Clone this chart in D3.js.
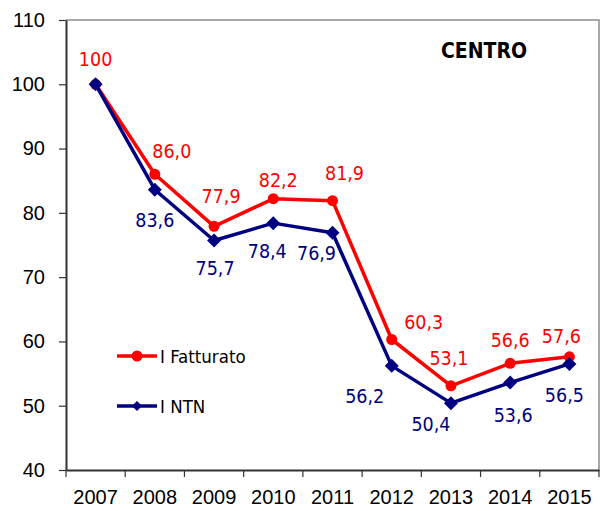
<!DOCTYPE html>
<html><head><meta charset="utf-8">
<script src="https://cdn.jsdelivr.net/npm/d3@7"></script>
<style>
html,body{margin:0;padding:0;background:#fff;}
svg{display:block;font-family:"DejaVu Sans Condensed","Liberation Sans",Arial,sans-serif;}
</style></head>
<body>
<svg id="chart" width="601" height="511"></svg>
<script>
const years = ["2007","2008","2009","2010","2011","2012","2013","2014","2015"];
const fatturato = [100, 86.0, 77.9, 82.2, 81.9, 60.3, 53.1, 56.6, 57.6];
const ntn = [100, 83.6, 75.7, 78.4, 76.9, 56.2, 50.4, 53.6, 56.5];
const fatturatoLabels = ["100","86,0","77,9","82,2","81,9","60,3","53,1","56,6","57,6"];
const ntnLabels = ["","83,6","75,7","78,4","76,9","56,2","50,4","53,6","56,5"];
const yTicks = [40, 50, 60, 70, 80, 90, 100, 110];
const seriesNames = ["I Fatturato", "I NTN"];
const title = "CENTRO";

// label placement offsets (dx, dy) relative to the point
const redOff = [[0,-25],[17,-23],[7,-30],[5,-19],[12,-28],[32,-18],[-2,-28],[0,-23],[-8,-21]];
const blueOff = [[0,30],[0,30],[1,27],[-6,28],[-16,20],[-27,30],[-20,21],[3,32],[-5,31]];

const RED = "#ff0000", BLUE = "#000080";
const L = 66, R = 599, T = 20, B = 470;
const svg = d3.select("#chart");

const x = d3.scaleBand().domain(years).range([L, R]).padding(0);
const y = d3.scaleLinear().domain([40, 110]).range([B, T]);
const cx = d => x(d) + x.bandwidth() / 2;

// plot frame (top/right gray)
svg.append("path").attr("d", `M${L},${T}H${R}V${B}`).attr("fill","none")
  .attr("stroke","#8c8c8c").attr("stroke-width",1.5);

// y axis
const yAxis = svg.append("g").attr("transform", `translate(${L},0)`)
  .call(d3.axisLeft(y).tickValues(yTicks).tickSize(7).tickPadding(14).tickSizeOuter(0));
yAxis.select(".domain").attr("stroke","#333").attr("stroke-width",2);
yAxis.selectAll(".tick line").attr("stroke","#333").attr("stroke-width",1.2);
yAxis.selectAll(".tick text").attr("font-size",20).attr("fill","#000")
  .attr("font-family","inherit");

// x axis: labels at centers, ticks at category boundaries
const xAxis = svg.append("g").attr("transform", `translate(0,${B})`)
  .call(d3.axisBottom(x).tickSize(0).tickPadding(20).tickSizeOuter(0));
xAxis.select(".domain").attr("stroke","#333").attr("stroke-width",2);
xAxis.selectAll(".tick text").attr("font-size",20).attr("fill","#000")
  .attr("font-family","inherit");
const bounds = years.map(d => x(d)).concat([x.range()[1]]);
svg.append("g").selectAll("line").data(bounds).join("line")
  .attr("x1", d => d).attr("x2", d => d).attr("y1", B).attr("y2", B + 7)
  .attr("stroke","#333").attr("stroke-width",1.2);

// lines
const line = d3.line().x((d,i) => cx(years[i])).y(d => y(d));
svg.append("path").datum(fatturato).attr("d", line).attr("fill","none")
  .attr("stroke", RED).attr("stroke-width", 3.5).attr("stroke-linejoin","round");
svg.selectAll(".redpt").data(fatturato).join("circle").attr("class","redpt")
  .attr("cx", (d,i) => cx(years[i])).attr("cy", d => y(d)).attr("r", 5.5).attr("fill", RED);

svg.append("path").datum(ntn).attr("d", line).attr("fill","none")
  .attr("stroke", BLUE).attr("stroke-width", 3.5).attr("stroke-linejoin","round");
const diamond = (s) => `M0,${-s}L${s},0L0,${s}L${-s},0Z`;
svg.selectAll(".bluept").data(ntn).join("path").attr("class","bluept")
  .attr("transform", (d,i) => `translate(${cx(years[i])},${y(d)})`)
  .attr("d", diamond(7)).attr("fill", BLUE);

// data labels
svg.selectAll(".redlab").data(fatturato).join("text").attr("class","redlab")
  .attr("x", (d,i) => cx(years[i]) + redOff[i][0]).attr("y", (d,i) => y(d) + redOff[i][1])
  .attr("dy","0.36em").attr("text-anchor","middle").attr("font-size",19.5).attr("fill", RED)
  .text((d,i) => fatturatoLabels[i]);
svg.selectAll(".bluelab").data(ntn).join("text").attr("class","bluelab")
  .attr("x", (d,i) => cx(years[i]) + blueOff[i][0]).attr("y", (d,i) => y(d) + blueOff[i][1])
  .attr("dy","0.36em").attr("text-anchor","middle").attr("font-size",19.5).attr("fill", BLUE)
  .text((d,i) => ntnLabels[i]);

// title
svg.append("text").attr("x", 484).attr("y", 58).attr("text-anchor","middle")
  .attr("font-size",21).attr("font-weight","bold").attr("fill","#000").text(title);

// legend
const leg = [{name: seriesNames[0], color: RED, sym: "circle", y: 356},
             {name: seriesNames[1], color: BLUE, sym: "diamond", y: 406}];
const lg = svg.append("g");
leg.forEach(e => {
  lg.append("line").attr("x1",117).attr("x2",157).attr("y1",e.y).attr("y2",e.y)
    .attr("stroke", e.color).attr("stroke-width",3.5);
  if (e.sym === "circle") lg.append("circle").attr("cx",137).attr("cy",e.y).attr("r",5.5).attr("fill",e.color);
  else lg.append("path").attr("transform",`translate(137,${e.y})`).attr("d",diamond(5)).attr("fill",e.color);
  lg.append("text").attr("x",160).attr("y",e.y).attr("dy","0.36em").attr("font-size",18.5)
    .attr("fill","#000").text(e.name);
});
</script>
</body></html>
